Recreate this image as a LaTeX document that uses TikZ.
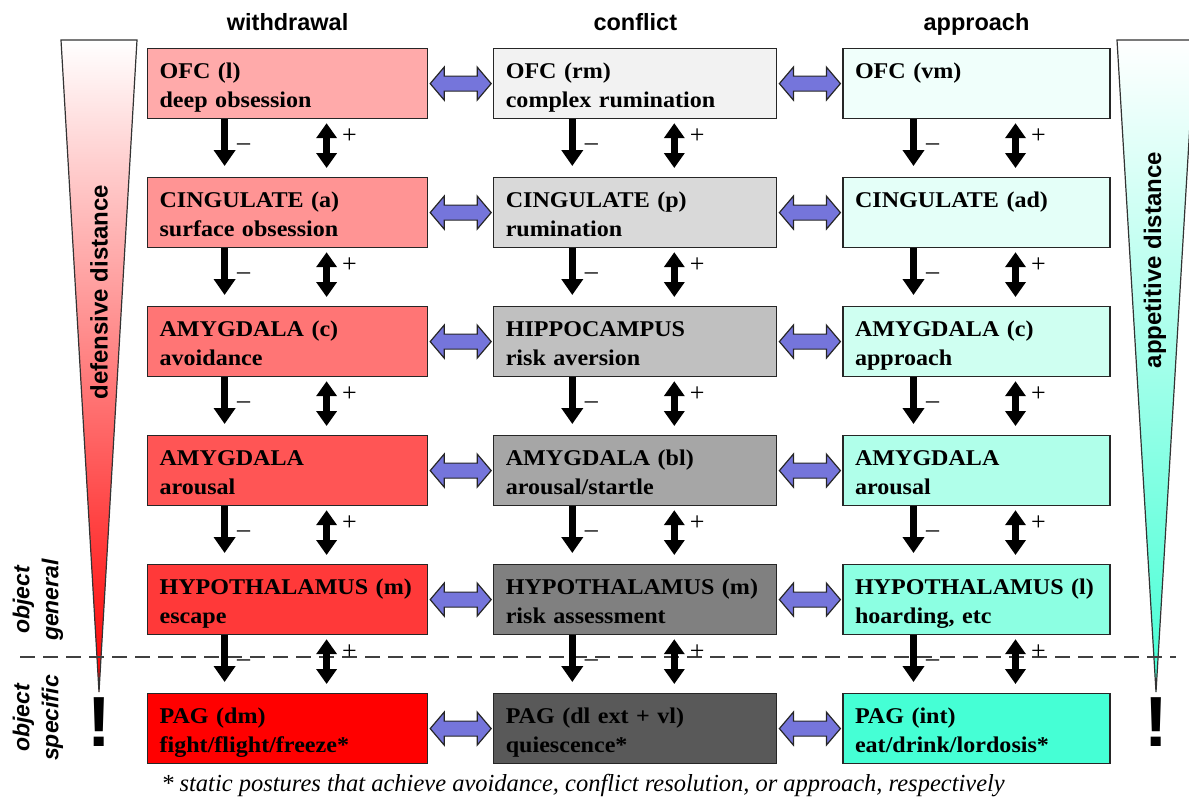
\documentclass[tikz,border=0pt]{standalone}
\usepackage{fontspec}
\setmainfont{Liberation Serif}
\setsansfont{Liberation Sans}
\newfontfamily\boxfont[FakeStretch=1.07]{Liberation Serif}
\usepackage{tikz}
\usetikzlibrary{arrows.meta,positioning,calc}

\definecolor{wdA}{HTML}{FFAAAA}
\definecolor{wdB}{HTML}{FF9494}
\definecolor{wdC}{HTML}{FF7575}
\definecolor{wdD}{HTML}{FF5555}
\definecolor{wdE}{HTML}{FF3939}
\definecolor{wdF}{HTML}{FF0000}
\definecolor{cfA}{HTML}{F2F2F2}
\definecolor{cfB}{HTML}{D9D9D9}
\definecolor{cfC}{HTML}{C0C0C0}
\definecolor{cfD}{HTML}{A6A6A6}
\definecolor{cfE}{HTML}{808080}
\definecolor{cfF}{HTML}{595959}
\definecolor{apA}{HTML}{F0FFFB}
\definecolor{apB}{HTML}{E4FFF8}
\definecolor{apC}{HTML}{CFFFF1}
\definecolor{apD}{HTML}{B0FFEA}
\definecolor{apE}{HTML}{8CFFE2}
\definecolor{apF}{HTML}{45FFD5}
\definecolor{linkblue}{HTML}{7575DB}

\newcommand{\vlink}[2]{%
  \draw[inhib] ([xshift=-63pt]#1.south) -- node[sign, pos=0.49, right=9pt] {–} ([xshift=-63pt]#2.north);
  \draw[excit] ([xshift=39pt]#1.south) -- node[sign, pos=0.29, right=12pt] {+} ([xshift=39pt]#2.north);}
\newcommand{\hlink}[2]{%
  \draw[twoway] ($(#1.east)+(2,0)$) -- ++(14,-16.5) -- ++(0,9) -- ($(#2.west)+(-16,-7.5)$)
    -- ++(0,-9) -- ($(#2.west)+(-2,0)$) -- ++(-14,16.5) -- ++(0,-9)
    -- ($(#1.east)+(16,7.5)$) -- ++(0,9) -- cycle;}

\begin{document}
\begin{tikzpicture}[x=1pt, y=-1pt,
  node distance=57.8pt and 65pt,
  box/.style={draw=black!85, line width=1.2pt, minimum height=70pt, text width=#1,
              inner xsep=12pt, align=left, text height=15pt, text depth=25pt,
              font=\boxfont\bfseries\fontsize{22.5}{29}\selectfont},
  head/.style={font=\sffamily\bfseries\fontsize{23.5}{24}\selectfont},
  side/.style={font=\sffamily\bfseries\fontsize{24}{24}\selectfont, rotate=90},
  scope/.style={font=\sffamily\bfseries\itshape\fontsize{23}{29}\selectfont, rotate=90, align=center},
  bang/.style={font=\sffamily\bfseries\fontsize{71}{71}\selectfont},
  sign/.style={font=\fontsize{26}{26}\selectfont, inner sep=0pt},
  inhib/.style={line width=7pt, -{Triangle[width=21pt,length=16pt]}, shorten >=11pt},
  excit/.style={line width=7pt, {Triangle[width=20pt,length=15pt]}-{Triangle[width=20pt,length=15pt]},
                shorten <=4pt, shorten >=9pt},
  twoway/.style={draw=black!85, fill=linkblue, line width=1.2pt, line join=miter}
]
\useasboundingbox (0,0) rectangle (1189,803);

% distance wedges
\shade[draw=black!80, line width=1.2pt, top color=white, bottom color=red]
  (61,40) -- (137,40) -- (99,692) -- cycle;
\shade[draw=black!80, line width=1.2pt, top color=white, bottom color=apF]
  (1117,40) -- (1195,40) -- (1156,692) -- cycle;
\node[side] at (99,292) {defensive distance};
\node[side] at (1155,260) {appetitive distance};
\node[bang] at (99,722) {!};
\node[bang] at (1156,722) {!};

\draw[black!75, line width=1.8pt, dash pattern=on 15pt off 8pt] (20,657) -- (1176,657);
\node[scope] at (38,600) {object\\general};
\node[scope] at (38,718) {object\\specific};

\node[box=256pt, anchor=north west, fill=wdA] (w1) at (147,48) {OFC (l)\\deep obsession};
\node[box=256pt, below=of w1, fill=wdB] (w2) {CINGULATE (a)\\surface obsession};
\node[box=256pt, below=of w2, fill=wdC] (w3) {AMYGDALA (c)\\avoidance};
\node[box=256pt, below=of w3, fill=wdD] (w4) {AMYGDALA\\arousal};
\node[box=256pt, below=of w4, fill=wdE] (w5) {HYPOTHALAMUS (m)\\escape};
\node[box=256pt, below=of w5, fill=wdF] (w6) {PAG (dm)\\fight/flight/freeze*};

\node[box=259pt, right=of w1, fill=cfA] (c1) {OFC (rm)\\complex rumination};
\node[box=259pt, below=of c1, fill=cfB] (c2) {CINGULATE (p)\\rumination};
\node[box=259pt, below=of c2, fill=cfC] (c3) {HIPPOCAMPUS\\risk aversion};
\node[box=259pt, below=of c3, fill=cfD] (c4) {AMYGDALA (bl)\\arousal/startle};
\node[box=259pt, below=of c4, fill=cfE] (c5) {HYPOTHALAMUS (m)\\risk assessment};
\node[box=259pt, below=of c5, fill=cfF] (c6) {PAG (dl ext + vl)\\quiescence*};

\node[box=243pt, right=of c1, fill=apA] (a1) {OFC (vm)};
\node[box=243pt, below=of a1, fill=apB] (a2) {CINGULATE (ad)};
\node[box=243pt, below=of a2, fill=apC] (a3) {AMYGDALA (c)\\approach};
\node[box=243pt, below=of a3, fill=apD] (a4) {AMYGDALA\\arousal};
\node[box=243pt, below=of a4, fill=apE] (a5) {HYPOTHALAMUS (l)\\hoarding, etc};
\node[box=243pt, below=of a5, fill=apF] (a6) {PAG (int)\\eat/drink/lordosis*};

\node[head, anchor=base] at ([yshift=18pt]w1.north) {withdrawal};
\node[head, anchor=base] at ([yshift=18pt]c1.north) {conflict};
\node[head, anchor=base] at ([yshift=18pt]a1.north) {approach};

\hlink{w1}{c1} \hlink{c1}{a1}
\hlink{w2}{c2} \hlink{c2}{a2}
\hlink{w3}{c3} \hlink{c3}{a3}
\hlink{w4}{c4} \hlink{c4}{a4}
\hlink{w5}{c5} \hlink{c5}{a5}
\hlink{w6}{c6} \hlink{c6}{a6}

\vlink{w1}{w2} \vlink{w2}{w3} \vlink{w3}{w4} \vlink{w4}{w5} \vlink{w5}{w6}
\vlink{c1}{c2} \vlink{c2}{c3} \vlink{c3}{c4} \vlink{c4}{c5} \vlink{c5}{c6}
\vlink{a1}{a2} \vlink{a2}{a3} \vlink{a3}{a4} \vlink{a4}{a5} \vlink{a5}{a6}

\node[font=\itshape\fontsize{24.5}{24.5}\selectfont] at (583,786)
  {* static postures that achieve avoidance, conflict resolution, or approach, respectively};
\end{tikzpicture}
\end{document}
